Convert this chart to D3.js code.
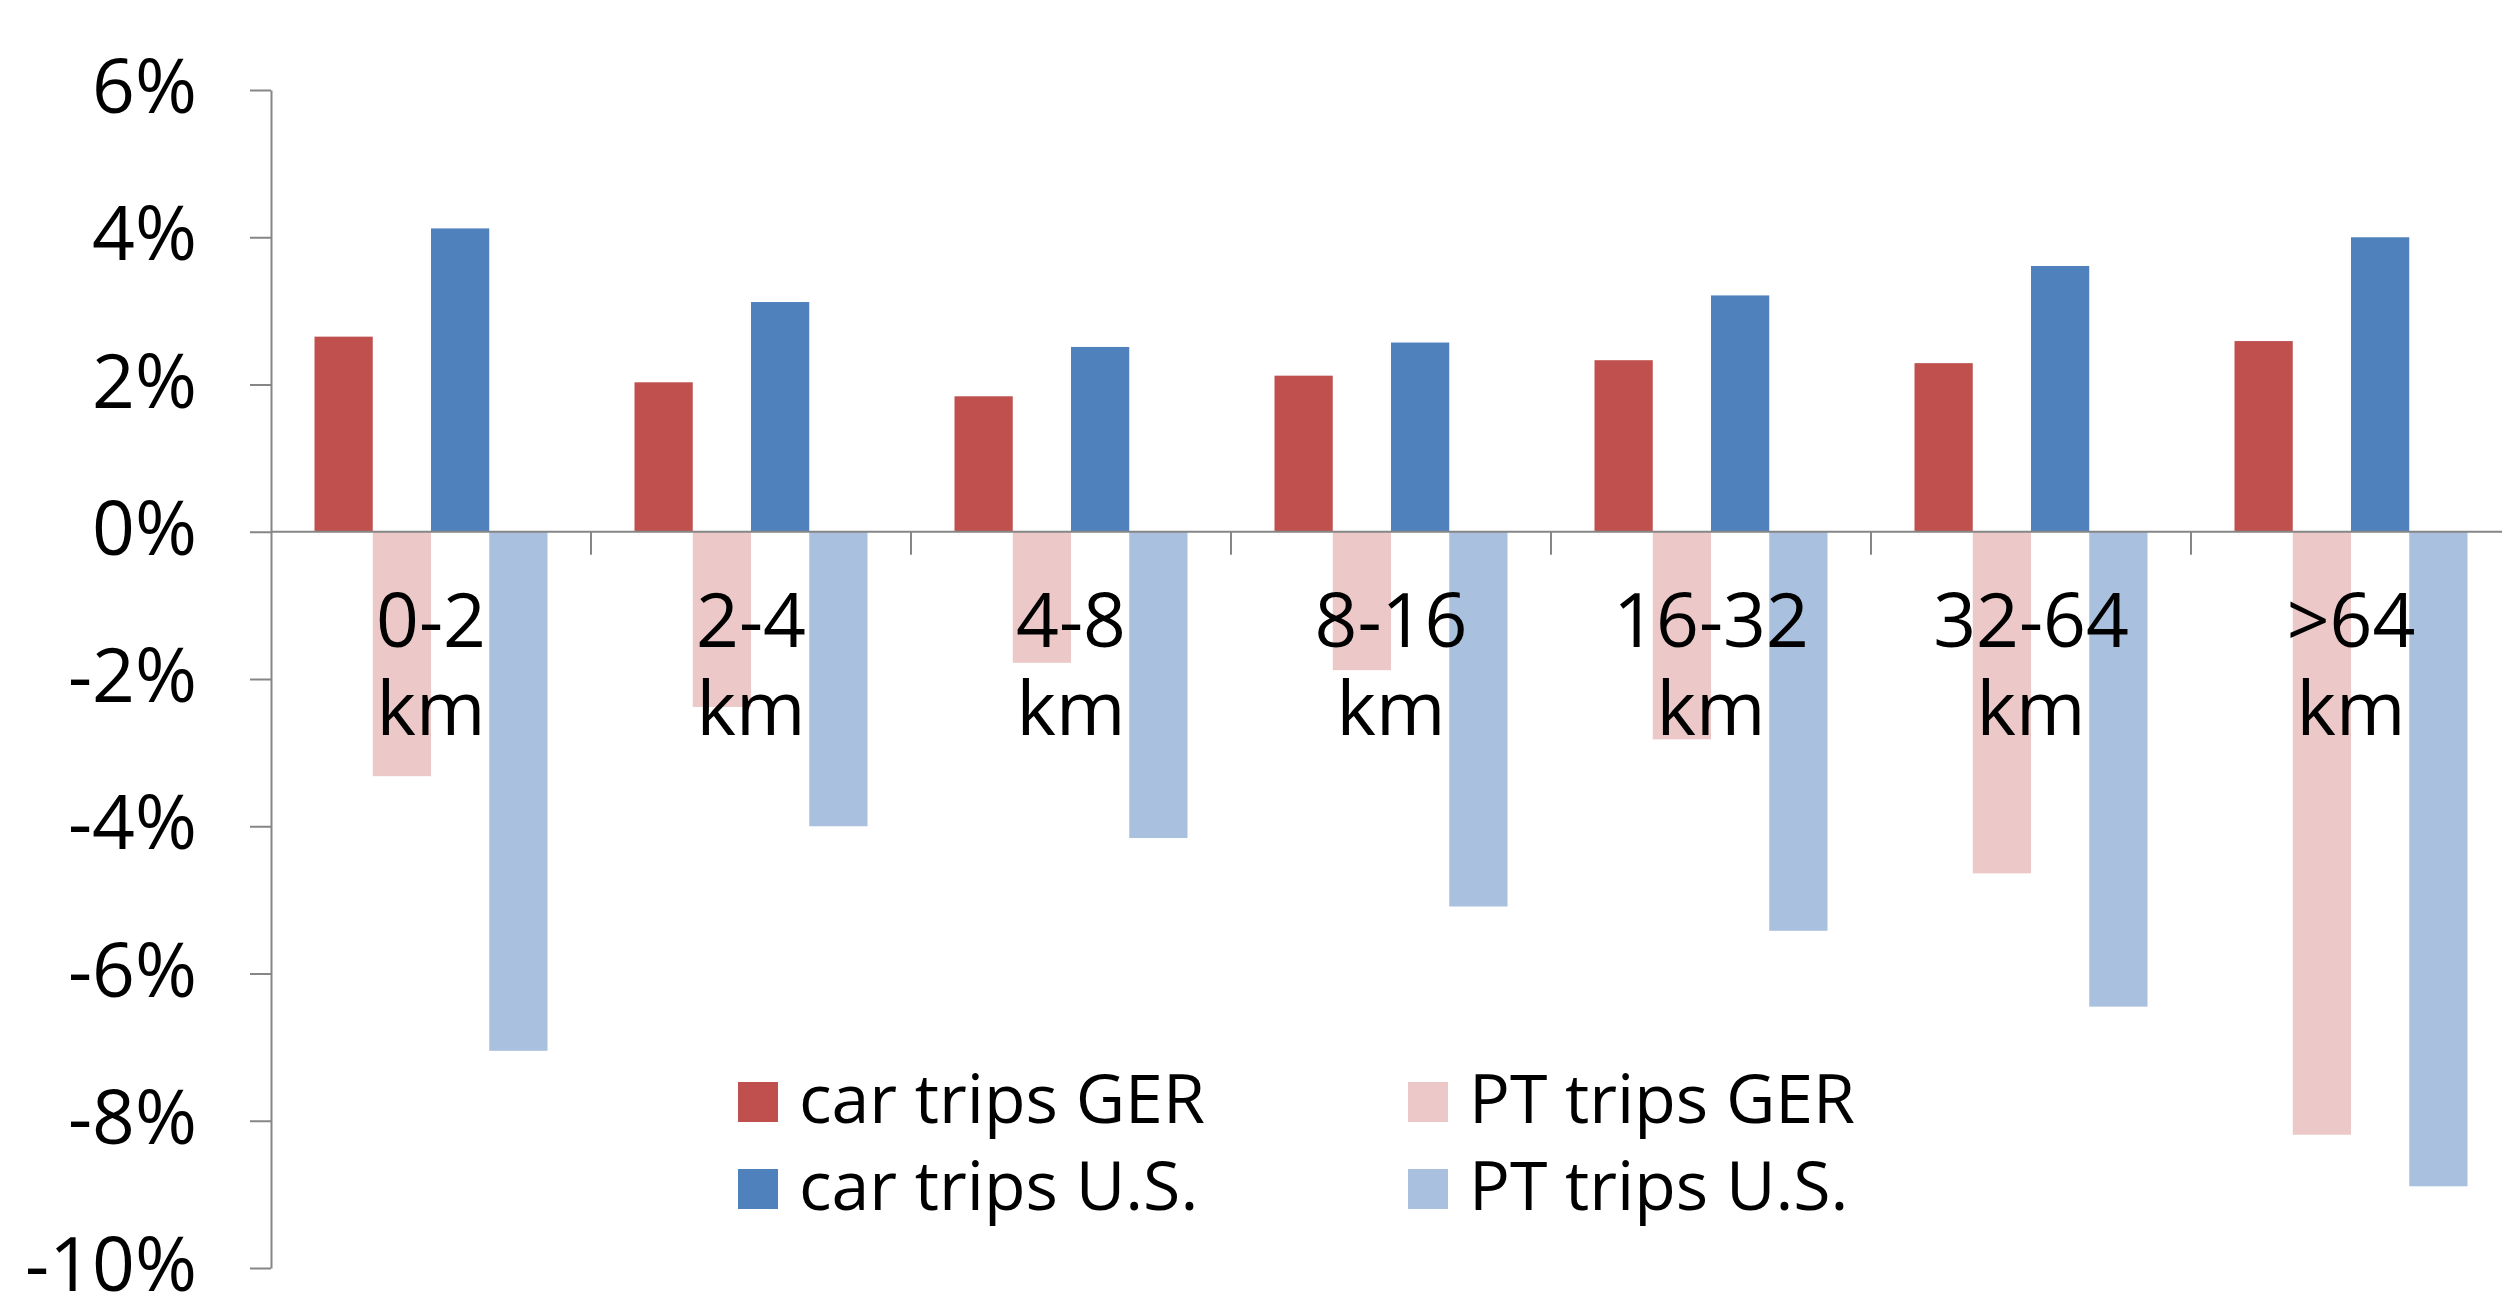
<!DOCTYPE html>
<html>
<head>
<meta charset="utf-8">
<script src="https://cdn.jsdelivr.net/npm/d3@7"></script>
<style>
  html, body { margin: 0; padding: 0; background: #fff; }
  svg { display: block; font-family: "Open Sans", sans-serif; }
</style>
</head>
<body>
<svg id="chart" width="2502" height="1293"></svg>
<script>
// ---- data ----
const categories = ["0-2 km", "2-4 km", "4-8 km", "8-16 km", "16-32 km", "32-64 km", ">64 km"];
const seriesNames = ["car trips GER", "PT trips GER", "car trips U.S.", "PT trips U.S."];
const carGER = [2.65, 2.03, 1.84, 2.12, 2.33, 2.29, 2.59];
const ptGER  = [-3.32, -2.38, -1.78, -1.88, -2.82, -4.64, -8.19];
const carUS  = [4.12, 3.12, 2.51, 2.57, 3.21, 3.61, 4.00];
const ptUS   = [-7.05, -4.00, -4.16, -5.09, -5.42, -6.45, -8.89];
const seriesColors = ["#C0504D", "#ECC9C8", "#4F81BD", "#AAC0DF"];
const yTicks = [-10, -8, -6, -4, -2, 0, 2, 4, 6];

const seriesValues = [carGER, ptGER, carUS, ptUS];

// ---- layout ----
const svg = d3.select("#chart");
const axisX = 271;
const bandStep = 320;
const plotRight = axisX + bandStep * categories.length;
const yTop = 90, yBottom = 1268;
const axisColor = "#868686";

const x = d3.scaleBand().domain(categories).range([axisX, plotRight]).paddingInner(0).paddingOuter(0);
const xs = d3.scaleBand().domain(seriesNames).range([0, x.bandwidth()]).paddingInner(0).paddingOuter(0.747);
const y = d3.scaleLinear().domain([-10, 6]).range([yBottom, yTop]);

// bars
const data = [];
categories.forEach((c, i) => {
  seriesNames.forEach((s, j) => {
    data.push({ cat: c, ser: s, v: seriesValues[j][i], color: seriesColors[j] });
  });
});

svg.append("g").selectAll("rect").data(data).join("rect")
  .attr("x", d => x(d.cat) + xs(d.ser))
  .attr("width", xs.bandwidth())
  .attr("y", d => y(Math.max(0, d.v)))
  .attr("height", d => Math.abs(y(d.v) - y(0)))
  .attr("fill", d => d.color);

// y axis
const yAxis = d3.axisLeft(y)
  .tickValues(yTicks)
  .tickFormat(d => d + "%")
  .tickSizeInner(21)
  .tickSizeOuter(0)
  .tickPadding(53);

const gy = svg.append("g").attr("transform", `translate(${axisX},0)`).call(yAxis);
gy.select(".domain").attr("stroke", axisColor).attr("stroke-width", 2);
gy.selectAll(".tick line").attr("stroke", axisColor).attr("stroke-width", 2);
gy.selectAll(".tick text")
  .attr("fill", "#000")
  .attr("font-size", 75)
  .attr("font-family", "'Open Sans', sans-serif")
  .attr("dy", "0.3em");

// x axis (zero line) with category separators
const gx = svg.append("g");
gx.append("line")
  .attr("x1", axisX).attr("x2", plotRight)
  .attr("y1", y(0)).attr("y2", y(0))
  .attr("stroke", axisColor).attr("stroke-width", 2);
gx.selectAll("line.sep").data(categories.slice(1)).join("line")
  .attr("class", "sep")
  .attr("x1", d => x(d)).attr("x2", d => x(d))
  .attr("y1", y(0)).attr("y2", y(0) + 23)
  .attr("stroke", axisColor).attr("stroke-width", 2);

// category labels (two lines)
const lbl = gx.selectAll("text.cat").data(categories).join("text")
  .attr("class", "cat")
  .attr("text-anchor", "middle")
  .attr("font-size", 75)
  .attr("fill", "#000");
lbl.each(function(d) {
  const parts = d.split(" ");
  const t = d3.select(this);
  const cx = x(d) + x.bandwidth() / 2;
  t.append("tspan").attr("x", cx).attr("y", y(0) + 115).text(parts[0]);
  t.append("tspan").attr("x", cx).attr("y", y(0) + 203).text(parts[1]);
});

// legend
const legendPos = [
  { sx: 738, sy: 1082 },
  { sx: 1408, sy: 1082 },
  { sx: 738, sy: 1169 },
  { sx: 1408, sy: 1169 }
];
const lg = svg.append("g").selectAll("g").data(seriesNames).join("g")
  .attr("transform", (d, i) => `translate(${legendPos[i].sx},${legendPos[i].sy})`);
lg.append("rect").attr("width", 40).attr("height", 40).attr("fill", (d, i) => seriesColors[i]);
lg.append("text")
  .attr("x", 61).attr("y", 41)
  .attr("font-size", 68)
  .attr("fill", "#000")
  .text(d => d);
</script>
</body>
</html>
